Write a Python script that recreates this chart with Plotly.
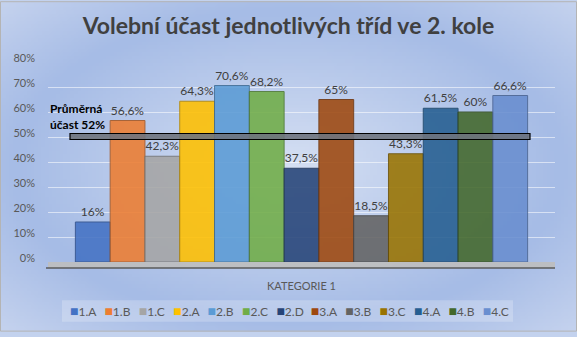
import zlib, struct, base64
import numpy as np
import plotly.graph_objects as go

# ---------------- data ----------------
category = "KATEGORIE 1"
classes = ["1.A", "1.B", "1.C", "2.A", "2.B", "2.C", "2.D", "3.A", "3.B", "3.C", "4.A", "4.B", "4.C"]
turnout = [16, 56.6, 42.3, 64.3, 70.6, 68.2, 37.5, 65, 18.5, 43.3, 61.5, 60, 66.6]
average_turnout = 52
y_ticks = [0, 10, 20, 30, 40, 50, 60, 70, 80]
y_tick_labels = ["{}%".format(v) for v in y_ticks]
title_text = "Volební účast jednotlivých tříd ve 2. kole"
avg_label = "Průměrná<br>účast {}%"

colors = ["#4472C4", "#ED7D31", "#A5A5A5", "#FFC000", "#5B9BD5", "#70AD47", "#264478",
          "#9E480E", "#636363", "#997300", "#255E91", "#43682B", "#698ED0"]

# ---------------- geometry ----------------
W, H = 577, 337
ML, MR, MT, MB = 48, 22, 62, 71
PW, PH = W - ML - MR, H - MT - MB
FONT = "Lato, Liberation Sans, sans-serif"


def px_x(p):
    return (p - ML) / PW


def px_y(p):
    return (H - MB - p) / PH


def darker(hexc, f=0.7):
    h = hexc.lstrip("#")
    r, g, b = (int(h[i:i + 2], 16) for i in (0, 2, 4))
    return "rgb({},{},{})".format(int(r * f), int(g * f), int(b * f))


# ---------------- background gradient image ----------------
def make_bg():
    w, h = 160, 94
    yy, xx = np.mgrid[0:h, 0:w]
    dx = (xx / (w - 1) - 0.5) / 0.5
    dy = (yy / (h - 1) - 0.5) / 0.5
    d = np.sqrt(dx ** 2 + dy ** 2)
    c0 = np.array([214, 224, 243], float)
    c1 = np.array([166, 188, 230], float)
    c2 = np.array([196, 210, 238], float)
    t1 = np.clip(d / 0.95, 0, 1)[..., None]
    t2 = np.clip((d - 0.95) / 0.45, 0, 1)[..., None]
    img = c0 * (1 - t1) + c1 * t1
    img = img * (1 - t2) + c2 * t2
    img = img.astype(np.uint8)
    raw = b"".join(b"\x00" + img[r].tobytes() for r in range(h))

    def chunk(t, data):
        c = struct.pack(">I", len(data)) + t + data
        return c + struct.pack(">I", zlib.crc32(t + data) & 0xFFFFFFFF)

    png = (b"\x89PNG\r\n\x1a\n" + chunk(b"IHDR", struct.pack(">IIBBBBB", w, h, 8, 2, 0, 0, 0))
           + chunk(b"IDAT", zlib.compress(raw, 9)) + chunk(b"IEND", b""))
    return "data:image/png;base64," + base64.b64encode(png).decode()


fig = go.Figure()

for name, val, col in zip(classes, turnout, colors):
    label = ("{:g}".format(val)).replace(".", ",") + "%"
    fig.add_trace(go.Bar(
        x=[category], y=[val], name=name, showlegend=False,
        marker=dict(color=col, opacity=0.88, line=dict(color=darker(col), width=1)),
        text=[label], textposition="outside", constraintext="none", cliponaxis=False,
        textfont=dict(family=FONT, size=12, color="#404040"),
    ))

hidden_marker = dict(opacity=0, size=1, color="rgba(0,0,0,0)", line=dict(width=0))
# legend entries (coloured square inside the entry text)
for name, col in zip(classes, colors):
    fig.add_trace(go.Scatter(
        x=[category], y=[None], mode="markers", marker=hidden_marker,
        name='<span style="color:{};font-size:14px">■</span>{}'.format(col, name),
        showlegend=True,
    ))
# spacer entry so the last entry's text is not clipped
fig.add_trace(go.Scatter(x=[category], y=[None], mode="markers", marker=hidden_marker,
                         name="\u2009", showlegend=True))

shapes = [
    # legend box
    dict(type="rect", xref="paper", yref="paper", x0=px_x(62), x1=px_x(513), y0=px_y(327), y1=px_y(305),
         fillcolor="rgba(255,255,255,0.22)", line=dict(width=0), layer="below"),
    # floor
    dict(type="rect", xref="paper", yref="paper", x0=px_x(48), x1=px_x(555), y0=px_y(272), y1=0,
         fillcolor="rgba(190,190,190,0.9)", line=dict(width=0), layer="below"),
    dict(type="line", xref="paper", yref="paper", x0=px_x(46), x1=px_x(555), y0=px_y(272), y1=px_y(272),
         line=dict(color="#5a5a5a", width=1.5)),
    # average line
    dict(type="rect", xref="paper", yref="y", x0=px_x(70), x1=px_x(530),
         y0=average_turnout - 3.0, y1=average_turnout - 0.6,
         fillcolor="rgba(110,115,125,0.9)", line=dict(color="black", width=1.2)),
    # chart border
    dict(type="rect", xref="paper", yref="paper", x0=px_x(0.5), x1=px_x(W - 0.5), y0=px_y(H - 0.5), y1=px_y(0.5),
         line=dict(color="#b4b4b4", width=1), layer="above"),
]

fig.update_layout(
    width=W, height=H,
    margin=dict(l=ML, r=MR, t=MT, b=MB),
    paper_bgcolor="#c3d2ee", plot_bgcolor="rgba(0,0,0,0)",
    barmode="group", bargap=0.108, bargroupgap=0,
    font=dict(family=FONT, color="#595959"),
    title=dict(text="<b>" + title_text + "</b>", x=0.5, xanchor="center", xref="container",
               y=1 - 26 / H, yanchor="middle", yref="container",
               font=dict(family=FONT, size=23, color="#404040")),
    xaxis=dict(showgrid=False, showline=False, ticks="", tickfont=dict(size=11, color="#595959"),
               ticklabelstandoff=16),
    yaxis=dict(range=[0, 80], tickmode="array", tickvals=y_ticks, ticktext=y_tick_labels, showgrid=True,
               gridcolor="rgba(255,255,255,0.55)", gridwidth=1, zeroline=False, showline=False,
               tickfont=dict(size=11, color="#595959"), ticklabelshift=-4, ticklabelstandoff=12),
    legend=dict(orientation="h", entrywidthmode="fraction", entrywidth=34.4 / 555,
                x=px_x(30), xanchor="left", y=px_y(316), yanchor="middle",
                bgcolor="rgba(0,0,0,0)", font=dict(size=12, color="#595959"), itemwidth=30),
    shapes=shapes,
    annotations=[dict(text="<b>" + avg_label.format(average_turnout) + "</b>", xref="paper", yref="y",
                      x=px_x(48), y=average_turnout - 0.6, xanchor="left", yanchor="bottom", align="left",
                      showarrow=False, font=dict(size=12, color="black", family=FONT))],
    images=[dict(source=make_bg(), xref="paper", yref="paper", x=-ML / PW, y=1 + MT / PH,
                 sizex=W / PW, sizey=H / PH, sizing="stretch", layer="below", xanchor="left", yanchor="top")],
    showlegend=True,
)

fig.write_html("out.html")
